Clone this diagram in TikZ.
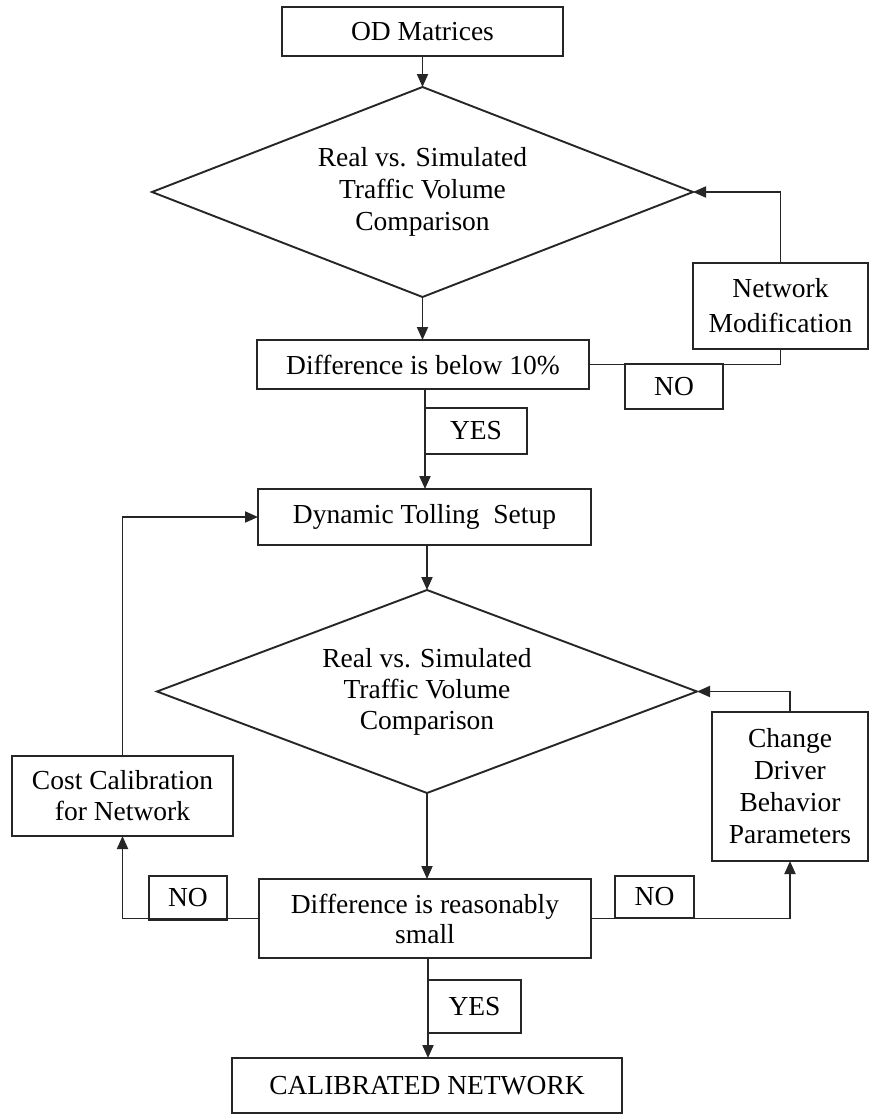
\documentclass[tikz,border=0pt]{standalone}
\usepackage{fontspec}
\setmainfont{Liberation Serif}
\usetikzlibrary{shapes.geometric,arrows.meta,calc}
\begin{document}
\begin{tikzpicture}[x=1pt,y=-1pt,
  box/.style={draw=black!85, line width=1.9pt, inner sep=0pt, outer sep=0pt, align=center,
    font=\fontsize{27.5}{32}\selectfont, text=black},
  dec/.style={box, diamond, aspect=2.6},
  arr/.style={draw=black!85, line width=1.9pt, -{Triangle[length=13pt,width=11pt]}},
  ln/.style={draw=black!85, line width=1.9pt}]
\useasboundingbox[fill=white] (0,0) rectangle (870,1116);

% nodes
\node[box, minimum width=281pt, minimum height=49pt] (od) at (422.5,31.5) {OD Matrices};
\node[dec, minimum width=541pt, minimum height=210pt] (d1) at (422.5,192)
  {Real vs. Simulated\\Traffic Volume\\Comparison};
\node[box, minimum width=332pt, minimum height=49pt] (diff1) at (423,364.5) {Difference is below 10\%};
\node[box, minimum width=175pt, minimum height=86pt, font=\fontsize{27.5}{35}\selectfont] (nm) at (780.5,306)
  {Network\\Modification};
\node[box, minimum width=333pt, minimum height=56pt] (dyn) at (424.5,517) {Dynamic Tolling\ \ Setup};
\node[dec, minimum width=540pt, minimum height=203pt, font=\fontsize{27.5}{31}\selectfont] (d2) at (427,691.5)
  {Real vs. Simulated\\Traffic Volume\\Comparison};
\node[box, minimum width=221pt, minimum height=80pt, font=\fontsize{27.5}{31}\selectfont] (cost) at (122.5,796)
  {Cost Calibration\\for Network};
\node[box, minimum width=156pt, minimum height=149pt, font=\fontsize{27.5}{32}\selectfont] (chg) at (790,786.5)
  {Change\\Driver\\Behavior\\Parameters};
\node[box, minimum width=332pt, minimum height=79pt, font=\fontsize{27.5}{30}\selectfont] (diff2) at (425,918.5)
  {Difference is reasonably\\small};
\node[box, minimum width=390pt, minimum height=55pt] (cal) at (427,1085.5) {CALIBRATED NETWORK};

% connector label boxes
\node[box, minimum width=98pt, minimum height=45pt] (no1) at (674,386.5) {NO};
\node[box, minimum width=102pt, minimum height=46pt] (yes1) at (476,431) {YES};
\node[box, minimum width=78pt, minimum height=44pt] (no2) at (188,898) {NO};
\node[box, minimum width=79pt, minimum height=42pt] (no3) at (654.5,897) {NO};
\node[box, minimum width=93pt, minimum height=53pt] (yes2) at (474.5,1006.5) {YES};

% connectors
\draw[arr] (od.south) -- (d1.north);
\draw[arr] (nm.north) |- (d1.east);
\draw[arr] (d1.south) -- (d1.south |- diff1.north);
\draw[ln] (diff1.east) -| (nm.south);
\draw[arr] (yes1.west |- diff1.south) -- (yes1.west |- dyn.north);
\draw[arr] (d2.north |- dyn.south) -- (d2.north);
\draw[arr] (chg.north) |- (d2.east);
\draw[arr] (d2.south) -- (d2.south |- diff2.north);
\draw[arr] (diff2.west) -| (cost.south);
\draw[arr] (diff2.east) -| (chg.south);
\draw[arr] (cost.north) |- (dyn.west);
\draw[arr] (yes2.west |- diff2.south) -- (yes2.west |- cal.north);
\end{tikzpicture}
\end{document}
